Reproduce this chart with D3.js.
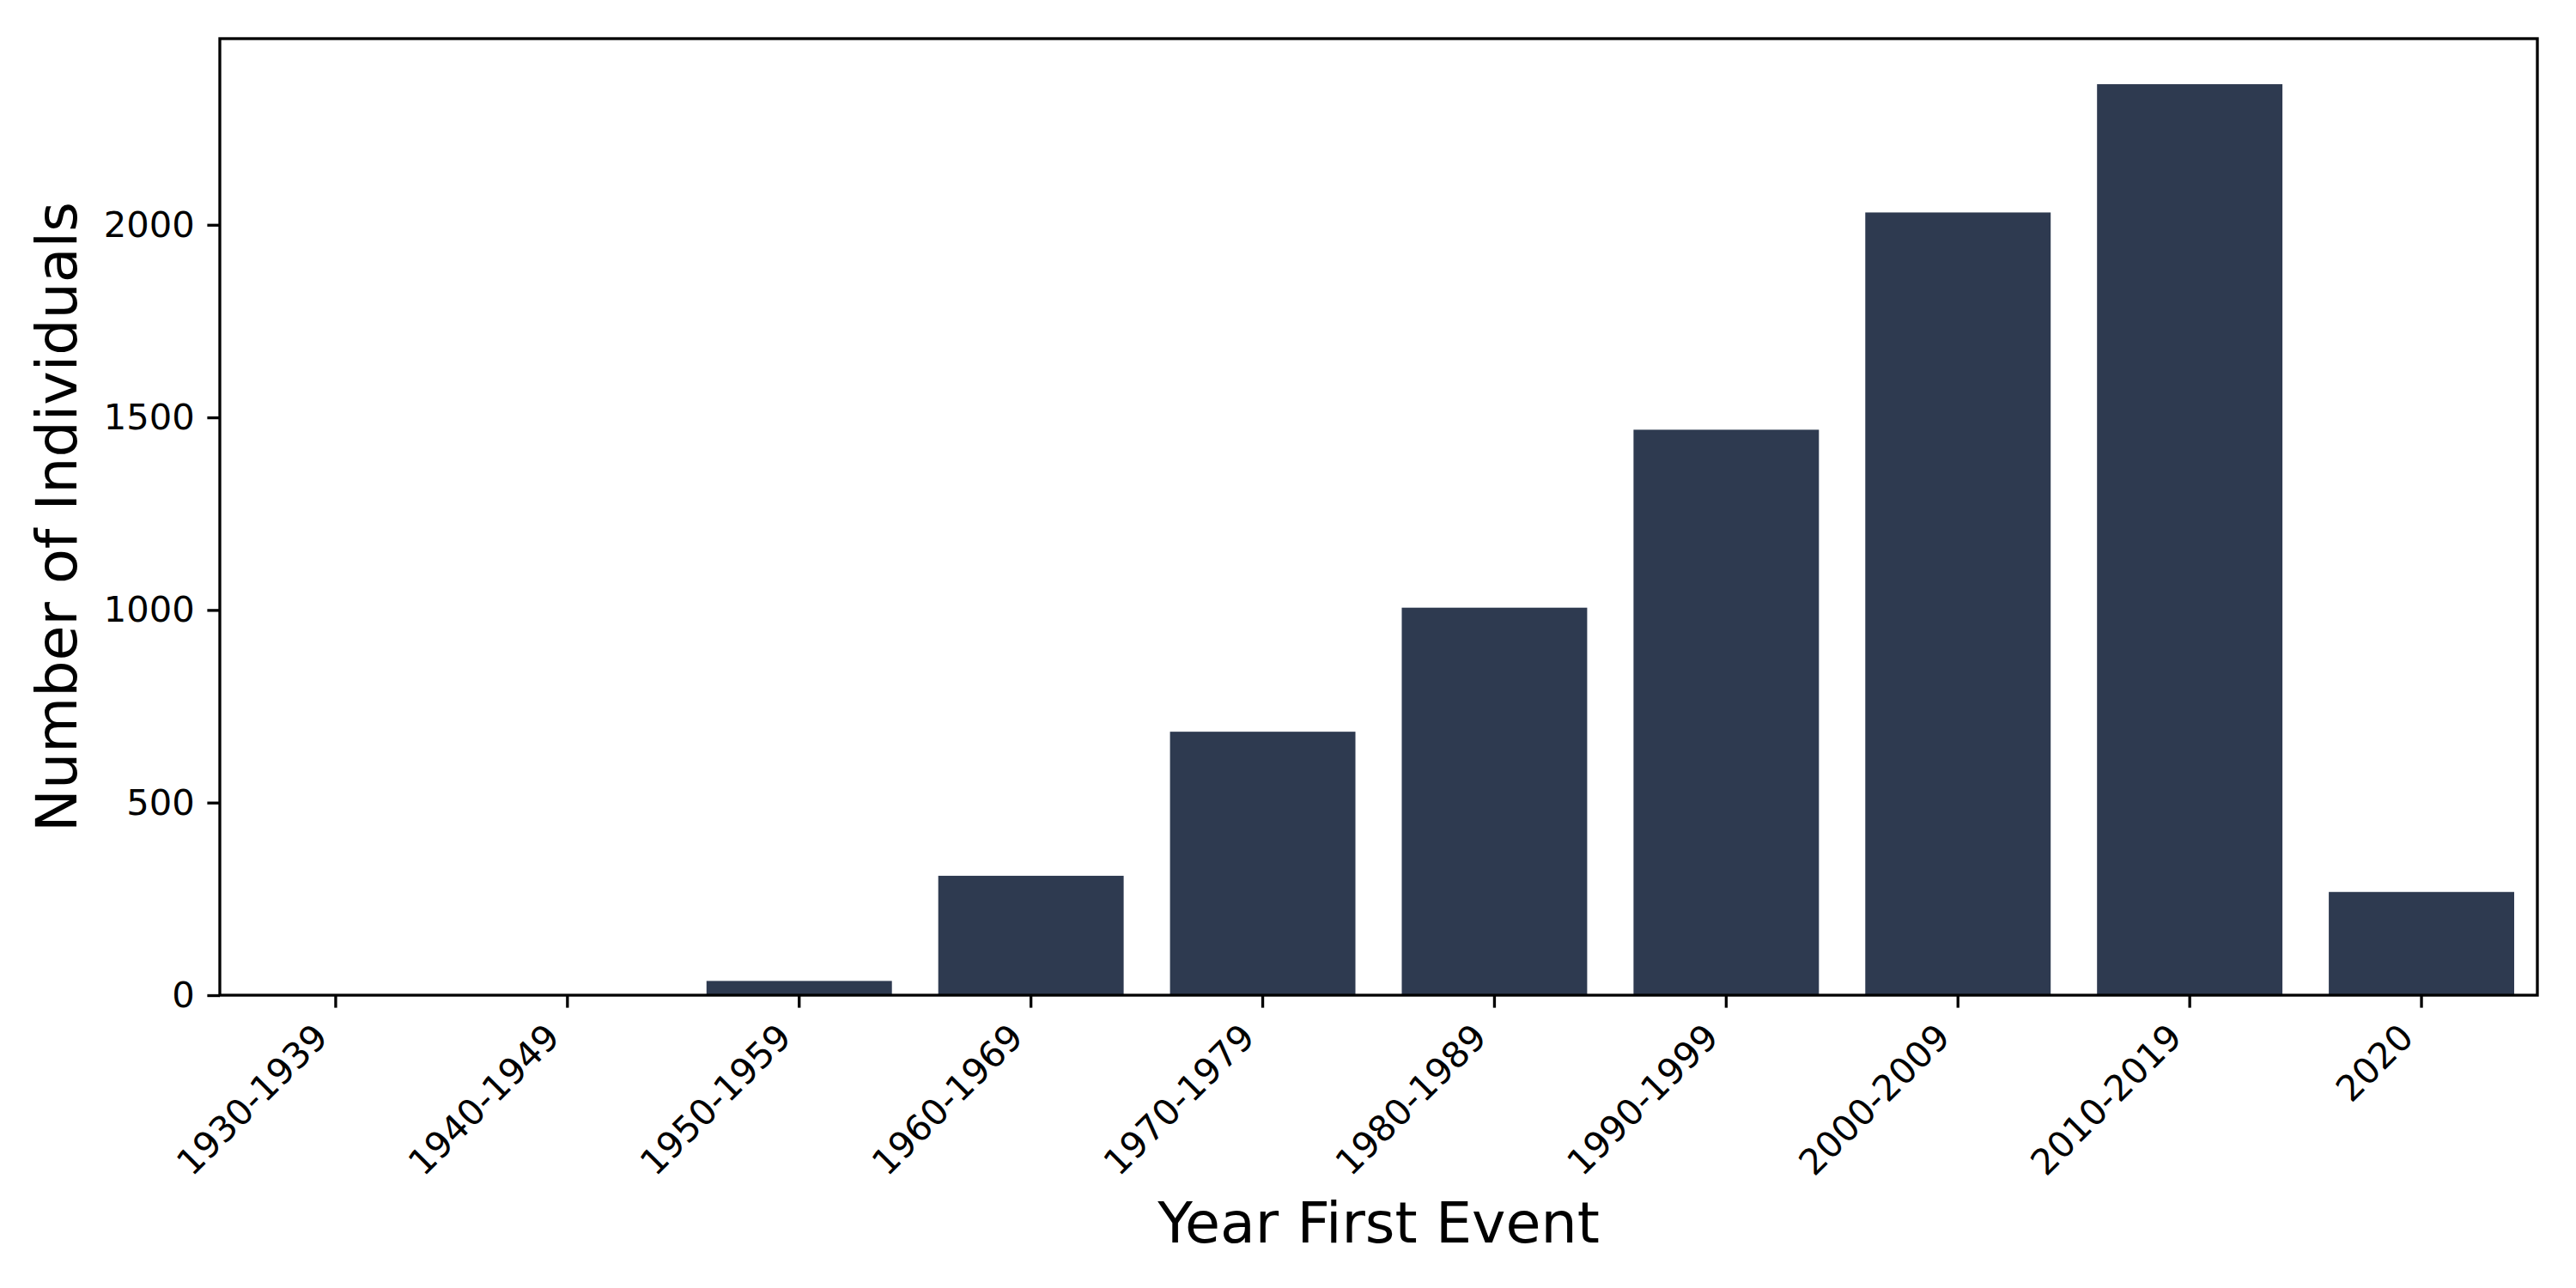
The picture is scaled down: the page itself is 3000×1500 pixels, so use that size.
<!DOCTYPE html>
<html>
<head>
<meta charset="utf-8">
<script src="https://cdn.jsdelivr.net/npm/d3@7"></script>
<style>
  html, body { margin: 0; padding: 0; background: #ffffff; }
  svg { display: block; }
  text { font-family: "DejaVu Sans", sans-serif; fill: #000; }
</style>
</head>
<body>
<svg id="chart" width="3000" height="1500"></svg>
<script>
// ---- data ----
const categories = ["1930-1939", "1940-1949", "1950-1959", "1960-1969", "1970-1979",
                    "1980-1989", "1990-1999", "2000-2009", "2010-2019", "2020"];
const counts = [1, 2, 37, 310, 684, 1006, 1468, 2032, 2365, 268];
const yTickValues = [0, 500, 1000, 1500, 2000];
const xAxisTitle = "Year First Event";
const yAxisTitle = "Number of Individuals";

(function () {
// ---- layout ----
const W = 3000, H = 1500;
const pLeft = 256, pRight = 2955, pTop = 45, pBottom = 1159;
const tickFont = 41.67, labelFont = 66.67;
const lw = 3.33, tickLen = 14.6, tickPad = 14.6;
const barColor = "#2e3a50";

const svg = d3.select("#chart");
svg.append("rect").attr("width", W).attr("height", H).attr("fill", "#fff");

const x = d3.scaleBand().domain(categories).range([pLeft, pRight])
  .paddingInner(0.2).paddingOuter(0.1);
const yMax = d3.max(counts) * 1.05;
const y = d3.scaleLinear().domain([0, yMax]).range([pBottom, pTop]);

// bars
svg.append("g").selectAll("rect").data(categories).join("rect")
  .attr("x", d => x(d))
  .attr("width", x.bandwidth())
  .attr("y", (d, i) => y(counts[i]))
  .attr("height", (d, i) => y(0) - y(counts[i]))
  .attr("fill", barColor);

// y axis
const yAxis = svg.append("g").attr("transform", `translate(${pLeft},0)`)
  .call(d3.axisLeft(y).tickValues(yTickValues).tickFormat(d3.format("d"))
    .tickSize(tickLen).tickPadding(tickPad));
yAxis.select(".domain").remove();
yAxis.selectAll(".tick line").attr("stroke", "#000").attr("stroke-width", lw);
yAxis.selectAll(".tick text").attr("font-size", tickFont)
  .attr("font-family", "DejaVu Sans").attr("fill", "#000");

// x axis
const xAxis = svg.append("g").attr("transform", `translate(0,${pBottom})`)
  .call(d3.axisBottom(x).tickSize(tickLen).tickPadding(0));
xAxis.select(".domain").remove();
xAxis.selectAll(".tick line").attr("stroke", "#000").attr("stroke-width", lw);
const asc = 0.76 * tickFont, desc = 0.236 * tickFont;
const y0 = tickLen + tickPad;
xAxis.selectAll(".tick text")
  .attr("font-size", tickFont).attr("font-family", "DejaVu Sans").attr("fill", "#000")
  .attr("text-anchor", "end")
  .attr("y", 0).attr("dy", 0)
  .attr("transform", `translate(${-0.7071 * desc},${y0 + 0.7071 * asc}) rotate(-45)`);

// frame
svg.append("rect")
  .attr("x", pLeft).attr("y", pTop)
  .attr("width", pRight - pLeft).attr("height", pBottom - pTop)
  .attr("fill", "none").attr("stroke", "#000").attr("stroke-width", lw);

// axis titles
svg.append("text")
  .attr("x", (pLeft + pRight) / 2).attr("y", 1447)
  .attr("text-anchor", "middle").attr("font-size", labelFont)
  .text(xAxisTitle);

svg.append("text")
  .attr("transform", `translate(89,${(pTop + pBottom) / 2}) rotate(-90)`)
  .attr("text-anchor", "middle").attr("font-size", labelFont)
  .text(yAxisTitle);
})();
</script>
</body>
</html>
